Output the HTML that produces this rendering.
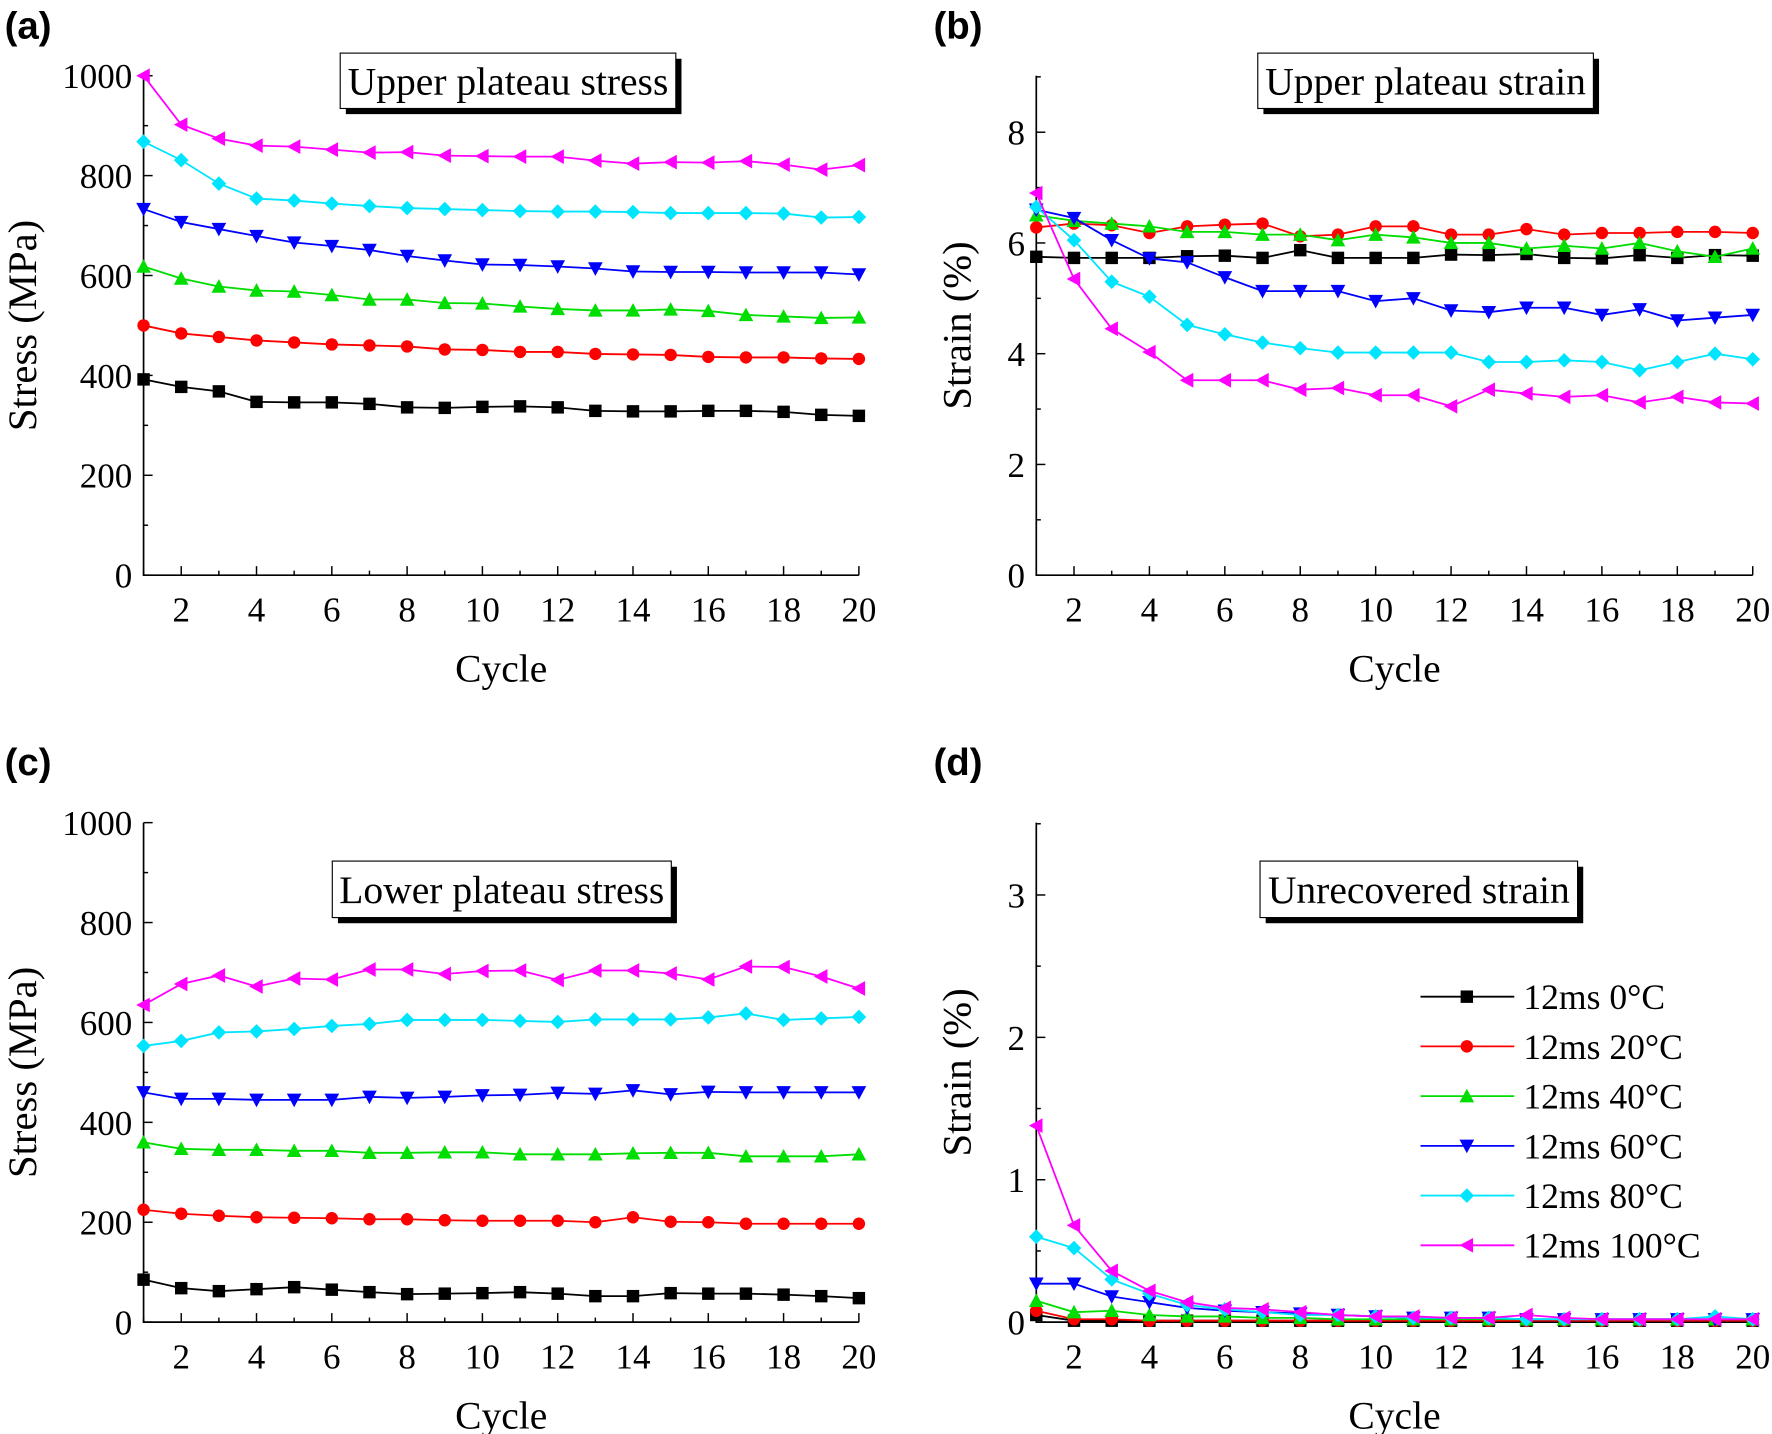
<!DOCTYPE html>
<html><head><meta charset="utf-8"><style>
html,body{margin:0;padding:0;background:#fff}
svg{display:block}
text{font-family:"Liberation Serif",serif;fill:#000}
</style></head><body>
<svg id="s" width="1772" height="1434" viewBox="0 0 1568 1269" xmlns="http://www.w3.org/2000/svg"></svg>
<script>
const cycles=[1,2,3,4,5,6,7,8,9,10,11,12,13,14,15,16,17,18,19,20];
const seriesNames=["12ms 0°C","12ms 20°C","12ms 40°C","12ms 60°C","12ms 80°C","12ms 100°C"];
const colors=["#000000","#ff0000","#00dd00","#0000ff","#00e5ff","#ff00ff"];
const markers=["square","circle","up","down","diamond","left"];
const aBlack=[392,377,368,347,346,346,343,336,335,337,338,336,329,328,328,329,329,327,321,319];
const aRed=[500,484,477,470,466,462,460,458,452,451,447,447,443,442,441,437,436,436,434,433];
const aGreen=[618,594,578,570,568,561,552,552,545,544,538,533,530,530,532,529,521,518,515,516];
const aBlue=[733,707,693,679,666,659,651,639,630,622,621,618,614,608,607,607,606,606,606,602];
const aCyan=[868,831,784,754,750,744,739,735,733,731,729,728,728,727,725,725,725,724,716,717];
const aMag=[1000,902,874,860,858,852,846,847,840,839,838,838,830,824,827,826,829,822,812,821];
const bBlack=[5.75,5.73,5.73,5.73,5.76,5.77,5.73,5.87,5.73,5.73,5.73,5.79,5.78,5.8,5.73,5.72,5.78,5.73,5.78,5.77];
const bRed=[6.28,6.35,6.32,6.18,6.3,6.33,6.35,6.12,6.15,6.3,6.3,6.15,6.15,6.25,6.15,6.18,6.18,6.2,6.2,6.18];
const bGreen=[6.5,6.4,6.35,6.3,6.2,6.2,6.15,6.15,6.05,6.15,6.1,6.0,6.0,5.9,5.95,5.9,6.0,5.85,5.75,5.9];
const bBlue=[6.6,6.45,6.05,5.72,5.65,5.38,5.13,5.13,5.13,4.95,5.0,4.78,4.75,4.83,4.83,4.7,4.8,4.6,4.65,4.7];
const bCyan=[6.65,6.05,5.3,5.03,4.52,4.35,4.2,4.1,4.02,4.02,4.02,4.02,3.85,3.85,3.88,3.85,3.7,3.85,4.0,3.9];
const bMag=[6.9,5.35,4.45,4.03,3.52,3.52,3.52,3.35,3.38,3.25,3.25,3.05,3.35,3.28,3.22,3.25,3.12,3.22,3.12,3.1];
const cBlack=[85,68,62,66,70,65,60,56,57,58,60,57,52,52,58,57,57,55,52,48];
const cRed=[225,217,213,210,209,208,206,206,204,203,203,203,200,210,201,200,197,197,197,197];
const cGreen=[360,347,345,345,343,343,339,339,340,340,336,336,336,338,339,339,332,332,332,336];
const cBlue=[460,447,447,445,445,445,451,449,451,454,455,459,457,464,456,461,460,460,460,460];
const cCyan=[553,563,580,582,587,593,597,605,605,605,603,601,606,606,606,610,618,605,608,611];
const cMag=[635,677,694,672,688,686,706,706,697,703,704,685,704,704,698,686,712,711,692,668];
const dBlack=[0.05,0.01,0.01,0.01,0.01,0.01,0.01,0.01,0.01,0.01,0.01,0.01,0.01,0.01,0.01,0.01,0.01,0.01,0.01,0.01];
const dRed=[0.08,0.02,0.02,0.01,0.01,0.01,0.01,0.01,0.01,0.01,0.01,0.01,0.01,0.01,0.01,0.01,0.01,0.01,0.01,0.01];
const dGreen=[0.15,0.07,0.08,0.05,0.04,0.04,0.03,0.03,0.02,0.02,0.02,0.02,0.02,0.02,0.02,0.02,0.02,0.02,0.02,0.02];
const dBlue=[0.27,0.27,0.18,0.14,0.1,0.08,0.07,0.06,0.05,0.04,0.03,0.03,0.03,0.02,0.02,0.02,0.02,0.02,0.02,0.02];
const dCyan=[0.6,0.52,0.3,0.2,0.12,0.09,0.07,0.05,0.05,0.04,0.03,0.03,0.03,0.02,0.02,0.02,0.02,0.02,0.04,0.02];
const dMag=[1.38,0.68,0.36,0.22,0.14,0.1,0.09,0.07,0.05,0.04,0.04,0.03,0.03,0.05,0.03,0.02,0.02,0.02,0.02,0.02];
const yTicksA=[0,200,400,600,800,1000];
const yTicksB=[0,2,4,6,8];
const yTicksD=[0,1,2,3];
const xTicks=[2,4,6,8,10,12,14,16,18,20];

const S=document.getElementById('s');
const NS="http://www.w3.org/2000/svg";
function el(tag,attrs,parent){const e=document.createElementNS(NS,tag);for(const k in attrs)e.setAttribute(k,attrs[k]);(parent||S).appendChild(e);return e;}
function txt(x,y,str,size,anchor,parent,extra){const t=el('text',Object.assign({x:x,y:y,'font-size':size,'text-anchor':anchor||'middle'},extra||{}),parent);t.textContent=str;return t;}
function marker(g,type,x,y,c){
  const r=5.5;let e;
  if(type==='square')e=el('rect',{x:x-r,y:y-r,width:2*r,height:2*r,fill:c},g);
  else if(type==='circle')e=el('circle',{cx:x,cy:y,r:r,fill:c},g);
  else if(type==='up')e=el('polygon',{points:`${x},${y-r-1} ${x-r-1},${y+r} ${x+r+1},${y+r}`,fill:c},g);
  else if(type==='down')e=el('polygon',{points:`${x},${y+r+1} ${x-r-1},${y-r} ${x+r+1},${y-r}`,fill:c},g);
  else if(type==='diamond')e=el('polygon',{points:`${x},${y-r-1} ${x+r+1},${y} ${x},${y+r+1} ${x-r-1},${y}`,fill:c},g);
  else e=el('polygon',{points:`${x-r-1},${y} ${x+r},${y-r-1} ${x+r},${y+r+1}`,fill:c},g);
  
  
}
function panel(o){
  const g=el('g',{});
  
  
  const X=v=>o.x0+(v-1)*(o.x1-o.x0)/19;
  const Y=v=>o.y0-(v-o.ymin)*(o.y0-o.ytopv)/(o.ytopval-o.ymin);
  const ax=el('path',{d:`M${o.x0},${o.ytop} V${o.y0} H${o.x1}`,stroke:'#000','stroke-width':1.5,fill:'none'},g);
  
  
  for(let c=1;c<=20;c++){const maj=c%2===0;el('line',{x1:X(c),x2:X(c),y1:o.y0,y2:o.y0-(maj?8:4),stroke:'#000','stroke-width':1.3},g);}
  xTicks.forEach(v=>{const t=txt(X(v),o.y0+41,String(v),31,'middle',g);});
  o.yt.forEach((v,i)=>{
    el('line',{x1:o.x0,x2:o.x0+8,y1:Y(v),y2:Y(v),stroke:'#000','stroke-width':1.3},g);
    const mid=v+o.minor; if(Y(mid)>=o.ytop-1) el('line',{x1:o.x0,x2:o.x0+4,y1:Y(mid),y2:Y(mid),stroke:'#000','stroke-width':1.3},g);
    const t=txt(o.x0-10,Y(v)+11,String(v),31,'end',g);
  });
  const xt=txt((o.x0+o.x1)/2,o.y0+94,'Cycle',35,'middle',g);
  const yx=o.x0-(o.ylabOff), yy=(o.ytop+o.y0)/2;
  const yt=txt(yx,yy,o.ylab,36,'middle',g,{transform:`rotate(-90 ${yx} ${yy})`});
  const bx=o.box;
  el('rect',{x:bx[0]+5,y:bx[1]+5,width:bx[2],height:bx[3],fill:'#000'},g);
  const br=el('rect',{x:bx[0],y:bx[1],width:bx[2],height:bx[3],fill:'#fff',stroke:'#000','stroke-width':1},g);
  
  const tt=txt(bx[0]+bx[2]/2,bx[1]+bx[3]/2+12,o.title,35,'middle',g);
  const pl=txt(o.lab[0],o.lab[1],o.label,34,'start',g,{'font-weight':'bold',style:'font-family:"Liberation Sans",sans-serif'});
  
  o.data.forEach((arr,si)=>{
    const pts=arr.map((v,i)=>X(cycles[i])+','+Y(v)).join(' ');
    const sg=el('g',{},g);
    
    
    el('polyline',{points:pts,fill:'none',stroke:colors[si],'stroke-width':1.6},sg);
    arr.forEach((v,i)=>marker(sg,markers[si],X(cycles[i]),Y(v),colors[si]));
  });
}
panel({name:'panel-a',x0:127,x1:760,y0:509,ymin:0,ytopval:1000,ytopv:67,ytop:67,yt:yTicksA,minor:100,ylab:'Stress (MPa)',ylabOff:95,box:[301,47,297,49],title:'Upper plateau stress',label:'(a)',lab:[4,34],data:[aBlack,aRed,aGreen,aBlue,aCyan,aMag]});
panel({name:'panel-b',x0:917,x1:1551,y0:509,ymin:0,ytopval:8,ytopv:117,ytop:67,yt:yTicksB,minor:1,ylab:'Strain (%)',ylabOff:58,box:[1113,47,297,49],title:'Upper plateau strain',label:'(b)',lab:[826,34],data:[bBlack,bRed,bGreen,bBlue,bCyan,bMag]});
panel({name:'panel-c',x0:127,x1:760,y0:1170,ymin:0,ytopval:1000,ytopv:728,ytop:728,yt:yTicksA,minor:100,ylab:'Stress (MPa)',ylabOff:95,box:[294,762,300,50],title:'Lower plateau stress',label:'(c)',lab:[4,686],data:[cBlack,cRed,cGreen,cBlue,cCyan,cMag]});
panel({name:'panel-d',x0:917,x1:1551,y0:1170,ymin:0,ytopval:3,ytopv:792,ytop:728,yt:yTicksD,minor:0.5,ylab:'Strain (%)',ylabOff:58,box:[1115,762,281,50],title:'Unrecovered strain',label:'(d)',lab:[826,686],data:[dBlack,dRed,dGreen,dBlue,dCyan,dMag]});
const lg=el('g',{});


seriesNames.forEach((n,i)=>{
  const y=882+i*44;
  const e=el('g',{},lg);
  
  
  el('line',{x1:1257,x2:1340,y1:y,y2:y,stroke:colors[i],'stroke-width':1.6},e);
  marker(e,markers[i],1298,y,colors[i]);
  txt(1348,y+11,n,31.5,'start',e);
});
</script>
</body></html>
